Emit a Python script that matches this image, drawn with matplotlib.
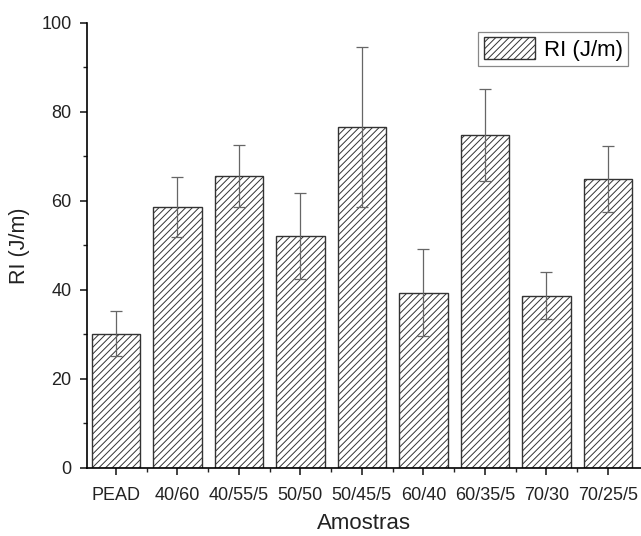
import matplotlib.pyplot as plt
from matplotlib.ticker import MultipleLocator, AutoMinorLocator
import numpy as np

plt.rcParams['font.family'] = ['Liberation Sans', 'DejaVu Sans']
plt.rcParams['hatch.color'] = '#808080'
plt.rcParams['hatch.linewidth'] = 0.7

amostras = ["PEAD", "40/60", "40/55/5", "50/50", "50/45/5", "60/40", "60/35/5", "70/30", "70/25/5"]
ri = [30.2, 58.6, 65.6, 52.2, 76.6, 39.4, 74.8, 38.7, 65.0]
ri_err = [5.1, 6.8, 7.0, 9.7, 18.0, 9.7, 10.3, 5.3, 7.4]

fig = plt.figure(figsize=(6.41, 5.36), dpi=100)
ax = fig.add_axes([0.1357, 0.1269, 0.8643, 0.8302])

x = np.arange(len(amostras))
ax.bar(x, ri, width=0.79, color='white', edgecolor='#333333', linewidth=1.0,
       hatch='/////', label='RI (J/m)')
ax.errorbar(x, ri, yerr=ri_err, fmt='none', ecolor='#666666', elinewidth=0.9,
            capsize=4, capthick=0.9)

ax.set_xlim(-0.47, 8.54)
ax.set_ylim(0, 100)
ax.set_xticks(x)
ax.set_xticklabels(amostras)
ax.yaxis.set_major_locator(MultipleLocator(20))
ax.yaxis.set_minor_locator(AutoMinorLocator(2))
ax.set_xticks(np.arange(0.5, 8.5, 1), minor=True)

for s in ['top', 'right']:
    ax.spines[s].set_visible(False)
for s in ['left', 'bottom']:
    ax.spines[s].set_linewidth(1.2)
ax.tick_params(which='major', direction='out', length=5, width=1.2, labelsize=13,
               color='#222222', labelcolor='#222222')
ax.tick_params(axis='x', which='major', pad=9)
ax.tick_params(axis='y', which='major', pad=6)
ax.tick_params(which='minor', direction='out', length=3, width=1.0, color='#222222')

ax.set_xlabel("Amostras", fontsize=16, labelpad=6, color='#222222')
ax.set_ylabel("RI (J/m)", fontsize=15.5, labelpad=8, color='#222222')

leg = ax.legend(loc='upper right', bbox_to_anchor=(0.985, 0.99), fontsize=16,
                fancybox=False, edgecolor='#888888', framealpha=1,
                handlelength=2.3, handleheight=1.1, borderpad=0.25,
                handletextpad=0.4, borderaxespad=0.2)
leg.get_frame().set_linewidth(0.9)

fig.savefig("out.png", dpi=100)
